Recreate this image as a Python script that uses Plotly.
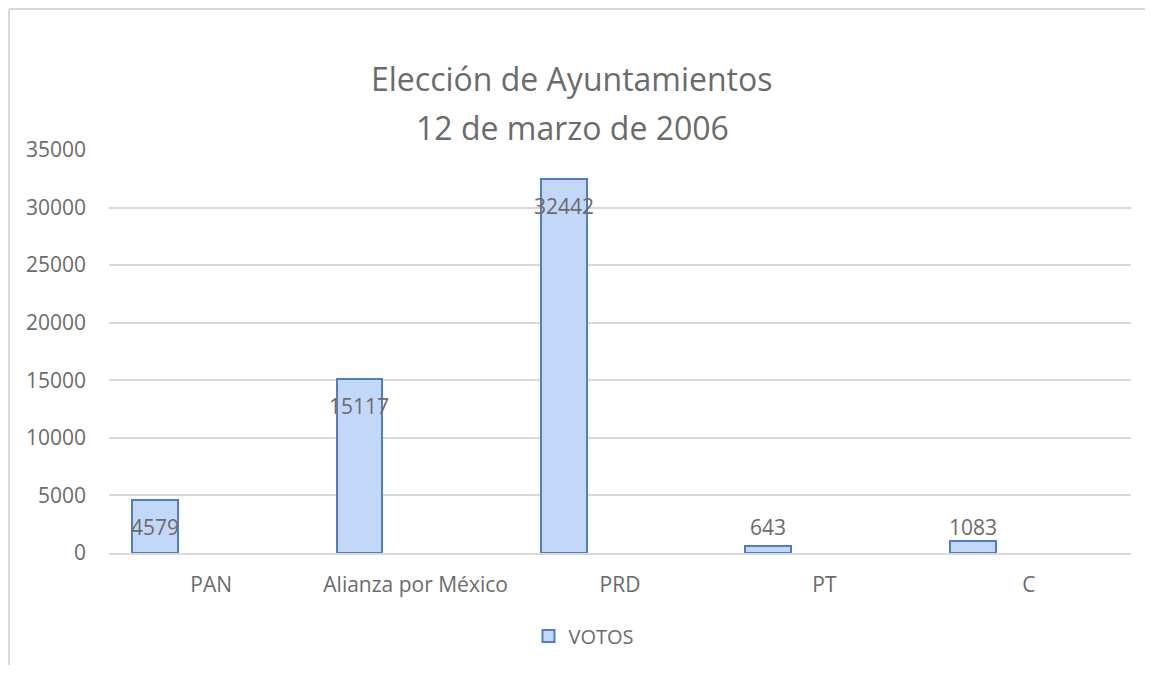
import plotly.graph_objects as go

categories = ["PAN", "Alianza por México", "PRD", "PT", "C"]
votos = [4579, 15117, 32442, 643, 1083]
series_name = "VOTOS"
title_lines = ["Elección de Ayuntamientos", "12 de marzo de 2006"]

# page body has an 8px margin on every side; work in figure coordinates
OFF = 8
W, H = 1153 - 2 * OFF, 673 - 2 * OFF
L = 109 - OFF
T = 150 - OFF
R = W - (1131 - OFF)
B = H - (553 - OFF)
pw, ph = W - L - R, H - T - B

FONT = "Open Sans"
GRAY = "#6b6b6b"
bar_width = 0.225
bar_offset = -0.387


def px_y(yref_px):
    """reference-page pixel row -> paper y"""
    return (H - B - (yref_px - OFF)) / ph


def px_x(xref_px):
    return (xref_px - OFF - L) / pw


fig = go.Figure()
fig.add_trace(go.Bar(
    x=categories, y=votos, name=series_name,
    width=bar_width, offset=bar_offset,
    marker=dict(color="#c3d7f9", line=dict(color="#4f7fc0", width=2)),
    showlegend=True,
))

# data labels
lab_shift = (bar_offset + bar_width / 2) * pw / 5
for c, v in zip(categories, votos):
    if v > 2300:
        fig.add_annotation(x=c, y=v, yshift=-27, xshift=lab_shift,
                           text=str(v), showarrow=False, font=dict(family=FONT, size=21, color=GRAY),
                           yanchor="middle")
    else:
        fig.add_annotation(x=c, y=0, yshift=26, xshift=lab_shift,
                           text=str(v), showarrow=False, font=dict(family=FONT, size=21, color=GRAY),
                           yanchor="middle")

# title
for i, line in enumerate(title_lines):
    fig.add_annotation(xref="paper", yref="paper", x=px_x(572),
                       y=px_y(78 + 49 * i), text=line, showarrow=False,
                       font=dict(family=FONT, size=32, color=GRAY), yanchor="middle", xanchor="center")

# chart frame (left and top edges only are visible)
frame = dict(color="#d9d9d9", width=2)
fig.add_shape(type="line", xref="paper", yref="paper",
              x0=px_x(9), x1=px_x(9), y0=px_y(673), y1=px_y(OFF + 1), line=frame, layer="below")
fig.add_shape(type="line", xref="paper", yref="paper",
              x0=px_x(9), x1=px_x(1152), y0=px_y(OFF + 1), y1=px_y(OFF + 1), line=frame, layer="below")

fig.update_layout(
    width=W, height=H,
    margin=dict(l=L, r=R, t=T, b=B, autoexpand=False),
    paper_bgcolor="white", plot_bgcolor="white",
    font=dict(family=FONT, size=21, color=GRAY),
    bargap=0,
    showlegend=True,
    legend=dict(orientation="h", x=px_x(584), xanchor="center", y=px_y(636),
                yanchor="middle", font=dict(family=FONT, size=20, color=GRAY),
                itemwidth=30, bgcolor="rgba(0,0,0,0)"),
    xaxis=dict(type="category", showgrid=False, showline=True, linecolor="#d9d9d9", linewidth=2,
               ticks="", tickfont=dict(family=FONT, size=21, color=GRAY), ticklabelstandoff=12),
    yaxis=dict(range=[0, 35000], dtick=5000, tickformat="d", showgrid=True, gridcolor="#d9d9d9",
               gridwidth=2, zeroline=False, showline=False, ticks="",
               tickfont=dict(family=FONT, size=21, color=GRAY), ticklabelstandoff=22),
)

fig.write_html("out.html")
